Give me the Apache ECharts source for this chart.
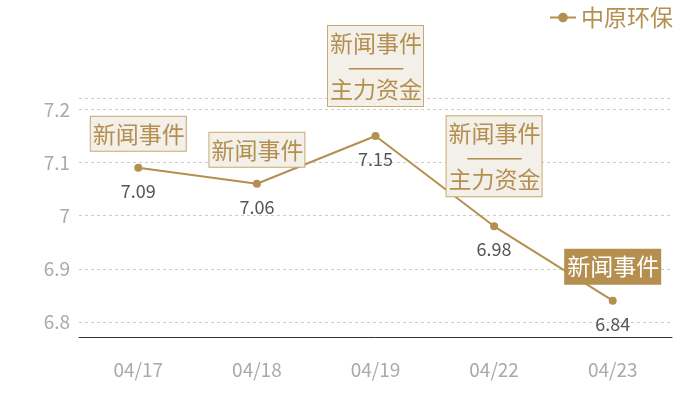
<!DOCTYPE html>
<html>
<head>
<meta charset="utf-8">
<script src="https://cdn.jsdelivr.net/npm/echarts@6/dist/echarts.min.js"></script>
<style>
  html, body { margin: 0; padding: 0; background: #fff; }
  #main { width: 700px; height: 400px; }
</style>
</head>
<body>
<div id="main"></div>
<script>
const seriesName = '中原环保'
const dates = ['04/17', '04/18', '04/19', '04/22', '04/23']
const prices = [7.09, 7.06, 7.15, 6.98, 6.84]
// event tag shown above each point
const tags = [['新闻事件'], ['新闻事件'], ['新闻事件', '主力资金'], ['新闻事件', '主力资金'], ['新闻事件']]
const highlightIndex = 4

const gold = '#b48f4f'
const font = '"Noto Sans CJK SC", "Noto Sans", sans-serif'

const chart = echarts.init(document.getElementById('main'))

const markData = dates.map(function (d, i) {
  const hi = i === highlightIndex
  const multi = tags[i].length > 1
  const color = hi ? '#fff' : gold
  return {
    coord: [d, prices[i]],
    value: tags[i].map(function (t) { return '{t|' + t + '}' }).join('\n{d|———}\n'),
    label: {
      distance: multi ? 30 : 17,
      backgroundColor: hi ? gold : '#f3efe9',
      borderColor: hi ? gold : '#c9a96e',
      rich: {
        t: { color: color, fontSize: 23, lineHeight: 28, fontFamily: font },
        d: { color: color, fontSize: 23, lineHeight: 18, fontFamily: font }
      }
    }
  }
})

chart.setOption({
  animation: false,
  textStyle: { fontFamily: font },
  legend: {
    right: 22,
    top: 1,
    itemWidth: 26,
    itemHeight: 12,
    itemGap: 6,
    textStyle: { color: gold, fontSize: 23, fontFamily: font },
    data: [seriesName]
  },
  grid: { left: 79, right: 28, top: 98, bottom: 63 },
  xAxis: {
    type: 'category',
    data: dates,
    axisLine: { lineStyle: { color: '#333' } },
    axisTick: { show: false },
    axisLabel: { color: '#aaa', fontSize: 19, margin: 23, fontFamily: font }
  },
  yAxis: {
    type: 'value',
    min: function (v) { return v.min * 0.99 },
    max: function (v) { return v.max * 1.01 },
    axisLine: { show: false },
    axisTick: { show: false },
    axisLabel: {
      color: '#aaa', fontSize: 19, margin: 9, fontFamily: font,
      formatter: function (v) {
        const r = Math.round(v * 10) / 10
        return Math.abs(v - r) < 1e-6 ? String(r) : ''
      }
    },
    splitLine: { lineStyle: { color: '#ccc', type: [3, 3] } }
  },
  series: [{
    name: seriesName,
    type: 'line',
    data: prices,
    symbol: 'circle',
    symbolSize: 8,
    itemStyle: { color: gold },
    lineStyle: { color: gold, width: 2 },
    label: {
      show: true,
      position: 'bottom',
      distance: 10,
      color: '#555',
      fontSize: 18,
      fontFamily: font
    },
    markPoint: {
      symbol: 'circle',
      symbolSize: 0,
      label: {
        show: true,
        position: 'top',
        formatter: '{c}',
        borderWidth: 1,
        padding: [3, 1, 3, 2]
      },
      data: markData
    }
  }]
})
</script>
</body>
</html>
